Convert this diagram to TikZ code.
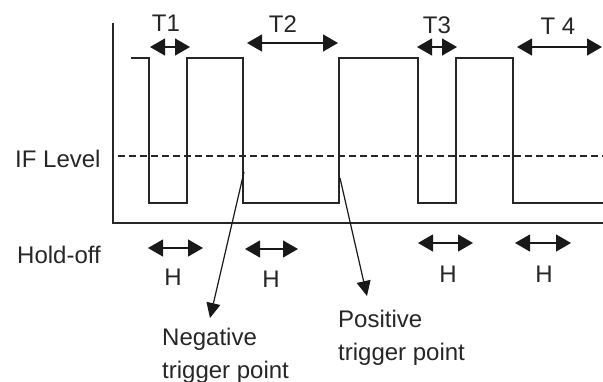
\documentclass[tikz,border=0pt]{standalone}
\usepackage{fontspec}
\setmainfont{Liberation Sans}
\usetikzlibrary{arrows.meta}
\begin{document}
\begin{tikzpicture}[x=1pt,y=-1pt,
  wave/.style={line width=1.6pt, draw=black!85, line join=miter},
  dim/.style={line width=1.2pt, draw=black!90, {Triangle[length=15pt,width=17pt]}-{Triangle[length=15pt,width=17pt]}},
  lbl/.style={font=\fontsize{24}{33}\selectfont, text=black!85, inner sep=0pt},
  ptr/.style={line width=1.2pt, draw=black!90, -{Triangle[length=15pt,width=14pt]}}]
\useasboundingbox (0,0) rectangle (603,381);
% axes
\draw[wave] (113,23) -- (113,223) -- (603,223);
% level
\draw[line width=1.2pt, dash pattern=on 7pt off 4pt, draw=black!85] (118,156) -- (603,156);
% waveform
\draw[wave] (131,58) -- (149,58) -- (149,203) -- (187,203) -- (187,58) -- (243,58) -- (243,203) -- (339,203) -- (339,58) -- (418,58) -- (418,203) -- (456,203) -- (456,58) -- (513,58) -- (513,203) -- (603,203);
% labels left
\node[lbl, anchor=base west] (iflevel) at (15,167) {IF Level};
\node[lbl, anchor=base west] (holdoff) at (17,263) {Hold-off};
% T arrows
\coordinate (t1a) at (150,47); \coordinate (t1b) at (190,47);
\coordinate (t2a) at (247,43); \coordinate (t2b) at (338,43);
\coordinate (t3a) at (417,47); \coordinate (t3b) at (457,47);
\coordinate (t4a) at (517,47); \coordinate (t4b) at (602,47);
\draw[dim] (t1a) -- (t1b);
\draw[dim] (t2a) -- (t2b);
\draw[dim] (t3a) -- (t3b);
\draw[dim] (t4a) -- (t4b);
\node[lbl, anchor=base] (T1) at (166,31) {T1};
\node[lbl, anchor=base] (T2) at (283,32) {T2};
\node[lbl, anchor=base] (T3) at (437,33) {T3};
\node[lbl, anchor=base] (T4) at (558,34) {T 4};
% H arrows
\coordinate (h1a) at (148,248); \coordinate (h1b) at (203,248);
\coordinate (h2a) at (245,249); \coordinate (h2b) at (298,249);
\coordinate (h3a) at (418,243); \coordinate (h3b) at (473,243);
\coordinate (h4a) at (515,243); \coordinate (h4b) at (571,243);
\draw[dim] (h1a) -- (h1b);
\draw[dim] (h2a) -- (h2b);
\draw[dim] (h3a) -- (h3b);
\draw[dim] (h4a) -- (h4b);
\node[lbl, anchor=base] (H1) at (173,285) {H};
\node[lbl, anchor=base] (H2) at (271,287) {H};
\node[lbl, anchor=base] (H3) at (448,282) {H};
\node[lbl, anchor=base] (H4) at (544,282) {H};
% trigger points
\node[lbl, anchor=north west, align=left] (neg) at (162,328) {Negative\\trigger point};
\node[lbl, anchor=north west, align=left] (pos) at (338,310) {Positive\\trigger point};
\coordinate (negstart) at (244,172); \coordinate (negtip) at (210,318);
\coordinate (posstart) at (340,178); \coordinate (postip) at (367,296);
\draw[ptr] (negstart) -- (negtip);
\draw[ptr] (posstart) -- (postip);
\end{tikzpicture}
\end{document}
